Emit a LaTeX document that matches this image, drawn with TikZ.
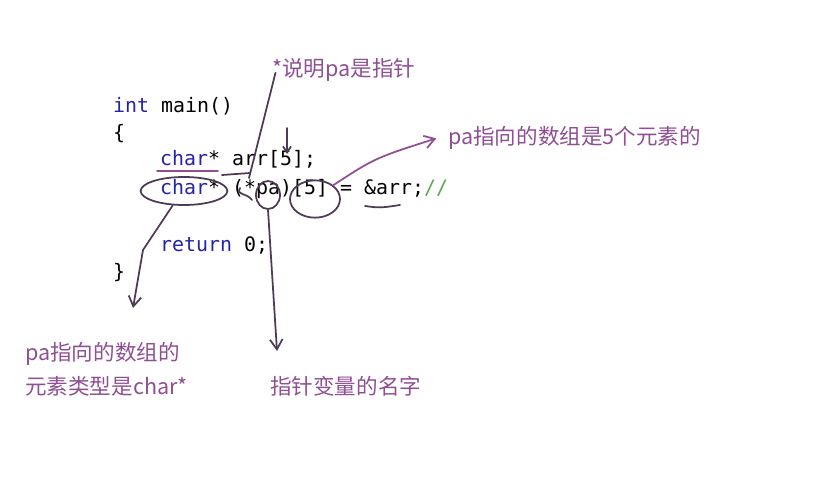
\documentclass[tikz,border=0pt]{standalone}
\usepackage{fontspec}
\setmonofont{DejaVu Sans Mono}
\newfontfamily\cjk{Noto Sans CJK SC}
\usetikzlibrary{shapes.geometric, positioning, arrows.meta, calc}
\definecolor{ptrViolet}{HTML}{8F4F93}
\definecolor{ptrInk}{HTML}{4E3B55}
\definecolor{ptrBlue}{HTML}{2424A6}
\definecolor{ptrGreen}{HTML}{5AA84C}
\newcommand{\kw}[1]{\textcolor{ptrBlue}{#1}}

\begin{document}
\begin{tikzpicture}[
    x=0.03cm, y=-0.03cm,
    code/.style={
        anchor=base west, inner sep=0pt, text=black,
        font=\fontsize{17}{20}\selectfont\ttfamily
    },
    note/.style={
        anchor=base west, inner sep=0pt, text=ptrViolet,
        font=\fontsize{18.4}{22}\selectfont\cjk
    },
    ring/.style={
        ellipse, draw=ptrInk, line width=1.5pt, inner sep=0pt
    },
    pen/.style={draw=ptrInk, line width=1.5pt, line cap=round},
    hint/.style={draw=ptrViolet, line width=1.5pt, line cap=round},
    tip/.style={-{Straight Barb[length=3mm, width=3.8mm, line width=1.5pt]}}
]
\useasboundingbox (0,0) rectangle (826,481);

% === Code lines ===
\node[code] (lmain) at (113,113) {\kw{int} main()};
\node[code] (lbrace) at (113,140) {\{};
\node[code] (larr) at (160,166) {\kw{char}* arr[5];};
\node[code] (lpa) at (160,195) {\kw{char}* (*pa)[5] = \&arr;\textcolor{ptrGreen}{//}};
\node[code] (lret) at (160,252) {\kw{return} 0;};
\node[code] (lclose) at (113,279) {\}};

% === Notes ===
\node[note] (nptr) at (272,77) {*说明pa是指针};
\node[note] (nfive) at (448,145) {pa指向的数组是5个元素的};
\node[note] (ntype) at (25,360) {pa指向的数组的};
\node[note] (ntype2) at (25,395) {元素类型是char*};
\node[note] (nname) at (270,395) {指针变量的名字};

% === Marks on the code ===
\node[ring, minimum width=2.6cm, minimum height=0.84cm] (echar) at (184,191) {};
\node[ring, minimum width=0.72cm, minimum height=0.84cm] (epa) at (268,195) {};
\node[ring, minimum width=1.5cm, minimum height=1.12cm] (efive) at (315,199) {};

\coordinate (ulA) at (157,171);
\coordinate (ulB) at (218,171);
\coordinate (ulC) at (222,175);
\coordinate (ulD) at (250,173);
\coordinate (ulE) at (365,206);
\coordinate (ulF) at (400,205);
\draw[hint] (ulA) -- (ulB);
\draw[pen] (ulC) -- (ulD);
\draw[pen] (ulE) .. controls (380,208) .. (ulF);
\draw[pen] (240,188) .. controls (236,196) and (246,192) .. (252,200);

% === Connectors ===
\coordinate (ptrTip) at (249,178);
\draw[pen] ([xshift=3pt,yshift=-2pt]nptr.west) -- (ptrTip);

\coordinate (dTop) at (287,128);
\coordinate (dTip) at (287,154);
\draw[pen, -{Straight Barb[length=1.8mm, width=2.4mm]}] (dTop) -- (dTip);

\draw[hint, tip] (efive.north east) .. controls (375,158) .. ([xshift=-10pt]nfive.west);

\coordinate (charBend) at (143,250);
\coordinate (charTip) at (133,308);
\draw[pen, tip] (echar.232) -- (charBend) -- (charTip);

\coordinate (paTip) at (277,351);
\draw[pen, tip] (epa.south) -- (paTip);

\end{tikzpicture}
\end{document}
